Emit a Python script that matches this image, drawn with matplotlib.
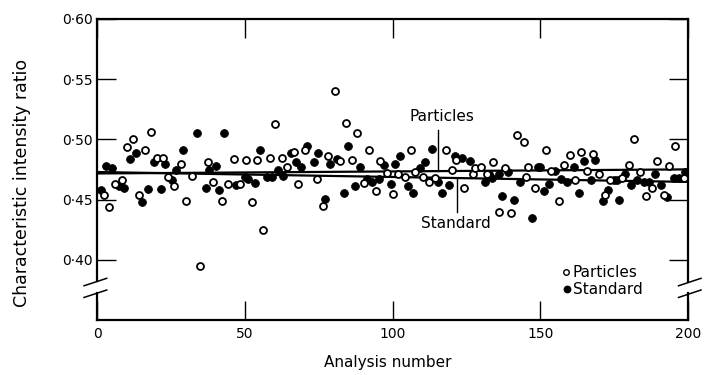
import numpy as np
import matplotlib.pyplot as plt
import matplotlib.transforms as mtransforms

# analysis number / characteristic intensity ratio
part_x = [2.4, 4.2, 6.1, 8.4, 10.2, 12.1, 14.3, 16.1, 18.3, 20.3, 22.2, 24.0, 26.2, 28.3, 30.1, 32.2, 34.7,
          37.4, 39.2, 42.4, 44.5, 46.4, 48.4, 50.4, 52.4, 54.1, 56.3, 58.5, 60.3, 62.5, 64.2, 66.6, 68.0,
          70.4, 74.4, 76.6, 78.3, 80.4, 82.1, 84.2, 86.2, 88.0, 90.2, 92.1, 94.4, 95.9, 98.2, 100.2, 102.0,
          104.1, 106.1, 107.7, 110.2, 112.2, 114.5, 118.1, 120.3, 121.6, 124.3, 127.2, 128.0, 130.0, 132.0, 134.0, 136.0,
          138.2, 140.2, 142.1, 144.4, 145.3, 146.0, 148.1, 151.9, 153.7, 156.2, 158.0, 160.2, 161.9, 163.9, 165.9, 167.9, 169.8,
          171.8, 173.6, 177.6, 179.9, 181.8, 183.9, 185.8, 187.8, 189.5, 191.8, 193.7, 195.7, 198.5]
part_y = [0.454, 0.444, 0.463, 0.466, 0.494, 0.500, 0.454, 0.491, 0.506, 0.485, 0.485, 0.469, 0.461, 0.480, 0.449, 0.470, 0.395,
          0.481, 0.465, 0.449, 0.463, 0.484, 0.463, 0.483, 0.448, 0.483, 0.425, 0.485, 0.513, 0.485, 0.477, 0.490, 0.463,
          0.491, 0.467, 0.445, 0.486, 0.540, 0.482, 0.514, 0.483, 0.505, 0.464, 0.491, 0.457, 0.482, 0.472, 0.455, 0.471,
          0.469, 0.491, 0.473, 0.469, 0.465, 0.468, 0.491, 0.475, 0.483, 0.460, 0.471, 0.476, 0.477, 0.471, 0.481, 0.440,
          0.476, 0.439, 0.504, 0.498, 0.469, 0.477, 0.460, 0.491, 0.474, 0.449, 0.479, 0.487, 0.466, 0.490, 0.474, 0.488, 0.471,
          0.454, 0.466, 0.468, 0.479, 0.500, 0.473, 0.453, 0.460, 0.482, 0.454, 0.478, 0.495, 0.468]

std_x = [1.4, 2.9, 5.2, 7.4, 9.3, 11.1, 13.2, 15.1, 17.4, 19.4, 21.6, 23.0, 25.3, 26.8, 29.2, 34.0,
         36.8, 37.9, 40.2, 41.3, 43.1, 47.0, 50.1, 51.2, 53.3, 55.3, 57.5, 59.2, 61.2, 62.9, 65.7, 67.5,
         69.1, 71.1, 73.3, 74.9, 77.2, 78.9, 81.2, 83.5, 84.9, 87.4, 89.1, 91.3, 93.2, 95.3, 97.0, 99.6, 100.9, 102.6,
         105.4, 107.1, 109.4, 111.1, 113.3, 115.3, 116.7, 119.0, 121.0, 123.5, 126.3, 131.2, 132.5, 133.6,
         135.9, 137.2, 139.0, 141.0, 143.2, 147.2, 149.2, 150.0, 151.1, 153.1, 154.9, 157.0, 158.9, 161.3, 163.2, 164.8, 167.2, 168.6,
         171.1, 172.9, 174.8, 176.0, 176.8, 178.8, 180.8, 182.8, 185.0, 186.7, 189.0, 191.0, 192.9, 195.1, 196.9, 199.1]
std_y = [0.458, 0.478, 0.476, 0.461, 0.460, 0.484, 0.489, 0.448, 0.459, 0.481, 0.459, 0.480, 0.466, 0.475, 0.491, 0.505,
         0.460, 0.475, 0.478, 0.458, 0.505, 0.462, 0.469, 0.467, 0.464, 0.491, 0.469, 0.469, 0.475, 0.470, 0.489, 0.481,
         0.477, 0.495, 0.481, 0.489, 0.451, 0.480, 0.484, 0.456, 0.495, 0.461, 0.477, 0.467, 0.465, 0.467, 0.479, 0.463, 0.480, 0.486,
         0.461, 0.456, 0.476, 0.481, 0.492, 0.465, 0.456, 0.462, 0.486, 0.485, 0.482, 0.465, 0.471, 0.468,
         0.471, 0.453, 0.473, 0.450, 0.465, 0.435, 0.477, 0.477, 0.457, 0.463, 0.474, 0.467, 0.465, 0.477, 0.456, 0.482, 0.466, 0.483,
         0.449, 0.458, 0.466, 0.466, 0.450, 0.471, 0.462, 0.466, 0.465, 0.465, 0.471, 0.462, 0.452, 0.468, 0.468, 0.473]

# fitted lines, end values at analysis 0 and 200
fit_x = [0, 200]
part_fit = [0.4718, 0.4752]
std_fit = [0.4730, 0.4648]

yticks = [0.40, 0.45, 0.50, 0.55, 0.60]
ylabels = ['0·40', '0·45', '0·50', '0·55', '0·60']
xticks = [0, 50, 100, 150, 200]

fig = plt.figure(figsize=(7.04, 3.75), dpi=100)
ax = fig.add_axes([97/704, 1 - 320/375, 591/704, 301/375])

ax.plot(fit_x, part_fit, color='black', lw=1.6, solid_capstyle='butt', zorder=2)
ax.plot(fit_x, std_fit, color='black', lw=1.6, solid_capstyle='butt', zorder=2)
ax.plot(std_x, std_y, 'o', ms=5.6, mfc='black', mec='black', mew=0.6, zorder=3)
ax.plot(part_x, part_y, 'o', ms=5.0, mfc='white', mec='black', mew=1.3, zorder=4)

ax.set_xlim(0, 200)
ax.set_ylim(0.3502, 0.60)
ax.set_xticks(xticks)
ax.set_xticklabels([str(t) for t in xticks])
ax.set_yticks(yticks)
ax.set_yticklabels(ylabels)
ax.tick_params(direction='in', length=13.7, width=1.0, top=True, right=True,
               labelsize=10, pad=3)
ax.tick_params(axis='x', pad=5)

# broken left/right axis lines
for side in ['left', 'right']:
    ax.spines[side].set_visible(False)
for side in ['top', 'bottom']:
    ax.spines[side].set_linewidth(1.6)
trans = mtransforms.blended_transform_factory(ax.transAxes, ax.transData)
for xs in [0, 1]:
    ax.plot([xs, xs], [0.3828, 0.60], color='black', lw=1.6, transform=trans, clip_on=False)
    ax.plot([xs, xs], [0.3502, 0.3729], color='black', lw=1.6, transform=trans, clip_on=False)
    for yc in [0.3817, 0.3720]:
        if xs == 0:
            dx = [-0.022, 0.0165]
        else:
            dx = [-0.016, 0.022]
        ax.plot([xs + dx[0], xs + dx[1]], [yc - 0.0031, yc + 0.0031], color='black',
                lw=1.1, transform=trans, clip_on=False)

# line labels
ax.plot([115.5, 115.5], [0.5079, 0.4739], color='black', lw=1.0)
ax.text(116.7, 0.5187, 'Particles', ha='center', va='center', fontsize=11)
ax.plot([121.9, 121.9], [0.4678, 0.4398], color='black', lw=1.0)
ax.text(121.4, 0.4307, 'Standard', ha='center', va='center', fontsize=11)

# key
ax.plot([158.8], [0.3900], 'o', ms=4.0, mfc='white', mec='black', mew=1.0, clip_on=False)
ax.text(161.0, 0.3900, 'Particles', ha='left', va='center', fontsize=11)
ax.plot([159.2], [0.3759], 'o', ms=4.6, mfc='black', mec='black', clip_on=False)
ax.text(161.0, 0.3759, 'Standard', ha='left', va='center', fontsize=11)

fig.text(388/704, 1 - 362/375, 'Analysis number', ha='center', va='center', fontsize=11)
fig.text(22/704, 1 - 183/375, 'Characteristic intensity ratio', ha='center', va='center',
         rotation=90, fontsize=12.5)

fig.savefig('out.png', dpi=100)
